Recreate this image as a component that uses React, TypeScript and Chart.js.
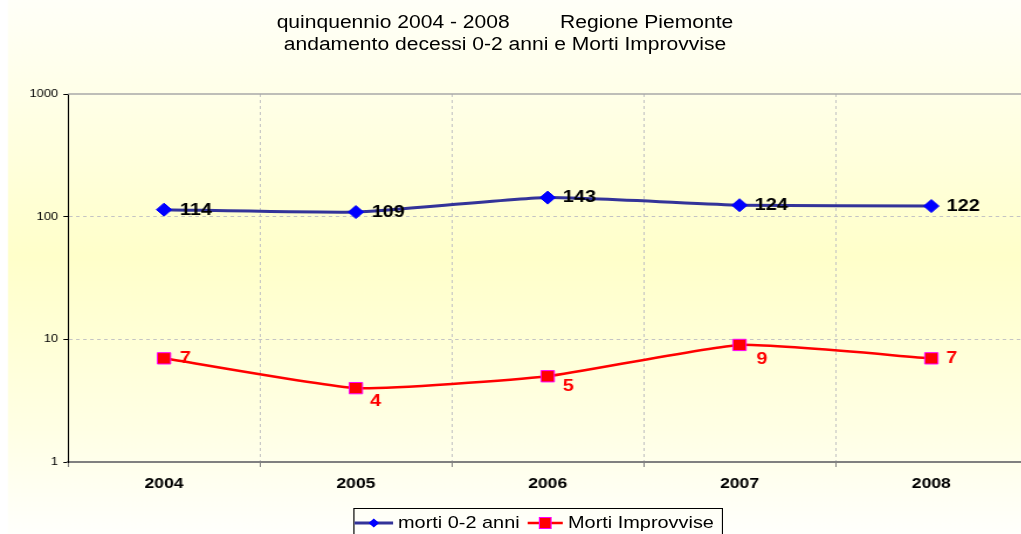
import React, { useEffect, useRef } from "react";
import { Chart, registerables } from "chart.js";

Chart.register(...registerables);

// ---- data ----
const years = ["2004", "2005", "2006", "2007", "2008"];
const morti02 = [114, 109, 143, 124, 122];
const mortiImprovvise = [7, 4, 5, 9, 7];
const yTickValues = [1, 10, 100, 1000];
const seriesNames = ["morti 0-2 anni", "Morti Improvvise"];
const titleLine1a = "quinquennio 2004 - 2008";
const titleLine1b = "Regione Piemonte";
const titleLine2 = "andamento decessi 0-2 anni e Morti Improvvise";

// ---- style ----
const SX = 1.17; // horizontal stretch of the original picture
const W = 887;
const H = 534;
const FONT = "'Liberation Sans', Arial, sans-serif";
const BLUE_LINE = "#333399";
const BLUE_MARK = "#0000FF";
const RED = "#FF0000";
const MAGENTA = "#FF00FF";
const GRID = "#C4C4C4";
// data label offsets (dx, dy) from each marker
const blueLabelOffsets = [[13.5, 0.5], [13.5, 0], [13, 0], [13, 0], [13, 0]];
const redLabelOffsets = [[13.5, 0], [12, 13.5], [12.8, 10], [14.5, 14], [12.8, 0]];

const bgPlugin = {
  id: "bgPlugin",
  beforeDraw(chart: any) {
    const ctx = chart.ctx;
    ctx.save();
    ctx.fillStyle = "#FFFFFF";
    ctx.fillRect(0, 0, chart.width, chart.height);
    const g = ctx.createLinearGradient(0, 0, 0, chart.height);
    g.addColorStop(0, "#FFFFF8");
    g.addColorStop(0.2, "#FFFFE6");
    g.addColorStop(0.48, "#FFFFCA");
    g.addColorStop(0.8, "#FFFFE4");
    g.addColorStop(1, "#FFFFFC");
    ctx.fillStyle = g;
    ctx.fillRect(6.8, 0, chart.width, chart.height);
    ctx.restore();
  },
  beforeDatasetsDraw(chart: any) {
    const ctx = chart.ctx;
    const y = chart.scales.y.getPixelForValue(yTickValues[yTickValues.length - 1]);
    const a = chart.chartArea;
    ctx.save();
    ctx.strokeStyle = "#A8A8A8";
    ctx.lineWidth = 1.5;
    ctx.beginPath();
    ctx.moveTo(a.left, y);
    ctx.lineTo(a.right, y);
    ctx.stroke();
    ctx.restore();
  },
};

const labelPlugin = {
  id: "labelPlugin",
  afterDatasetsDraw(chart: any) {
    const ctx = chart.ctx;
    ctx.save();
    ctx.font = `bold 17px ${FONT}`;
    ctx.textAlign = "left";
    ctx.textBaseline = "middle";
    chart.data.datasets.forEach((ds: any, di: number) => {
      const meta = chart.getDatasetMeta(di);
      const offs = di === 0 ? blueLabelOffsets : redLabelOffsets;
      ctx.fillStyle = di === 0 ? "#000000" : RED;
      meta.data.forEach((pt: any, i: number) => {
        const [dx, dy] = offs[i];
        ctx.fillText(String(ds.data[i]), pt.x + dx, pt.y + dy);
      });
    });
    ctx.restore();
  },
};

export default function App() {
  const ref = useRef<HTMLCanvasElement>(null);

  useEffect(() => {
    if (!ref.current) return;
    const chart = new Chart(ref.current, {
      type: "line",
      data: {
        labels: years,
        datasets: [
          {
            label: seriesNames[0],
            data: morti02,
            borderColor: BLUE_LINE,
            borderWidth: 3,
            backgroundColor: BLUE_MARK,
            pointStyle: "rectRot",
            pointRadius: 6.5,
            pointBackgroundColor: BLUE_MARK,
            pointBorderColor: BLUE_MARK,
            pointBorderWidth: 1,
            tension: 0.15,
            fill: false,
          },
          {
            label: seriesNames[1],
            data: mortiImprovvise,
            borderColor: RED,
            borderWidth: 2.5,
            backgroundColor: RED,
            pointStyle: "rect",
            pointRadius: 8,
            pointBackgroundColor: RED,
            pointBorderColor: MAGENTA,
            pointBorderWidth: 1,
            tension: 0.15,
            fill: false,
          },
        ],
      },
      options: {
        animation: false,
        responsive: false,
        devicePixelRatio: 1,
        events: [],
        layout: { padding: { top: 94, right: 2, bottom: 0, left: 0 } },
        plugins: {
          legend: { display: false },
          title: { display: false },
          tooltip: { enabled: false },
        },
        scales: {
          x: {
            type: "category",
            offset: true,
            grid: {
              offset: true,
              color: GRID,
              lineWidth: 1,
              drawTicks: true,
              tickLength: 5,
              tickColor: "#808080",
              tickWidth: 1,
            },
            border: { display: true, color: "#808080", width: 2, dash: [3, 3] },
            ticks: {
              color: "#000000",
              font: { family: FONT, size: 15, weight: "bold" },
              padding: 8,
              maxRotation: 0,
              autoSkip: false,
            },
            afterFit: (s: any) => {
              s.height = 72;
            },
          },
          y: {
            type: "logarithmic",
            min: 1,
            max: 1000,
            afterBuildTicks: (s: any) => {
              s.ticks = yTickValues.map((v) => ({ value: v }));
            },
            grid: {
              color: (c: any) =>
                c.tick && (c.tick.value === 1 || c.tick.value === 1000) ? "rgba(0,0,0,0)" : GRID,
              lineWidth: 1,
              drawTicks: true,
              tickLength: 4,
              tickColor: "#000000",
              tickWidth: 1,
            },
            border: { display: true, color: "#000000", width: 1, dash: [3, 3] },
            ticks: {
              color: "#000000",
              font: { family: FONT, size: 11 },
              padding: 4.5,
              autoSkip: false,
              callback: (v: any) => String(v),
            },
            afterFit: (s: any) => {
              s.width = 58.2;
            },
          },
        },
      },
      plugins: [bgPlugin, labelPlugin],
    } as any);
    return () => chart.destroy();
  }, []);

  const textBase: React.CSSProperties = {
    position: "absolute",
    fontFamily: FONT,
    color: "#000",
    whiteSpace: "nowrap",
  };

  return (
    <div
      style={{
        position: "fixed",
        left: 0,
        top: 0,
        width: 1021,
        height: 534,
        overflow: "hidden",
        background: "#fff",
      }}
    >
      <div
        style={{
          position: "absolute",
          left: 0,
          top: 0,
          width: W,
          height: H,
          transform: `scaleX(${SX})`,
          transformOrigin: "0 0",
        }}
      >
        <canvas ref={ref} width={W} height={H} style={{ display: "block", width: W, height: H }} />
        {/* title */}
        <div
          style={{
            ...textBase,
            left: 431.6 - 500,
            width: 1000,
            top: 11,
            fontSize: 18,
            lineHeight: "22px",
            textAlign: "center",
          }}
        >
          <div>
            <span>{titleLine1a}</span>
            <span style={{ display: "inline-block", width: 43 }} />
            <span>{titleLine1b}</span>
          </div>
          <div>{titleLine2}</div>
        </div>
        {/* legend */}
        <div
          style={{
            position: "absolute",
            left: 301.7,
            top: 508,
            width: 316,
            height: 40,
            border: "1px solid #000",
            boxSizing: "border-box",
          }}
        />
        <svg
          style={{ position: "absolute", left: 303.4, top: 515, overflow: "visible" }}
          width={33}
          height={16}
        >
          <line x1={0} y1={8} x2={33} y2={8} stroke={BLUE_LINE} strokeWidth={3} />
          <polygon points="12,8 16.5,3.5 21,8 16.5,12.5" fill={BLUE_MARK} />
        </svg>
        <div style={{ ...textBase, left: 340.2, top: 512.6, fontSize: 17, lineHeight: "19px" }}>
          {seriesNames[0]}
        </div>
        <svg
          style={{ position: "absolute", left: 451.3, top: 515, overflow: "visible" }}
          width={30}
          height={16}
        >
          <line x1={0} y1={8} x2={30} y2={8} stroke={RED} strokeWidth={2.5} />
          <rect x={10} y={2.5} width={10} height={11} fill={RED} stroke={MAGENTA} strokeWidth={1} />
        </svg>
        <div style={{ ...textBase, left: 485.5, top: 512.6, fontSize: 17, lineHeight: "19px" }}>
          {seriesNames[1]}
        </div>
      </div>
    </div>
  );
}
